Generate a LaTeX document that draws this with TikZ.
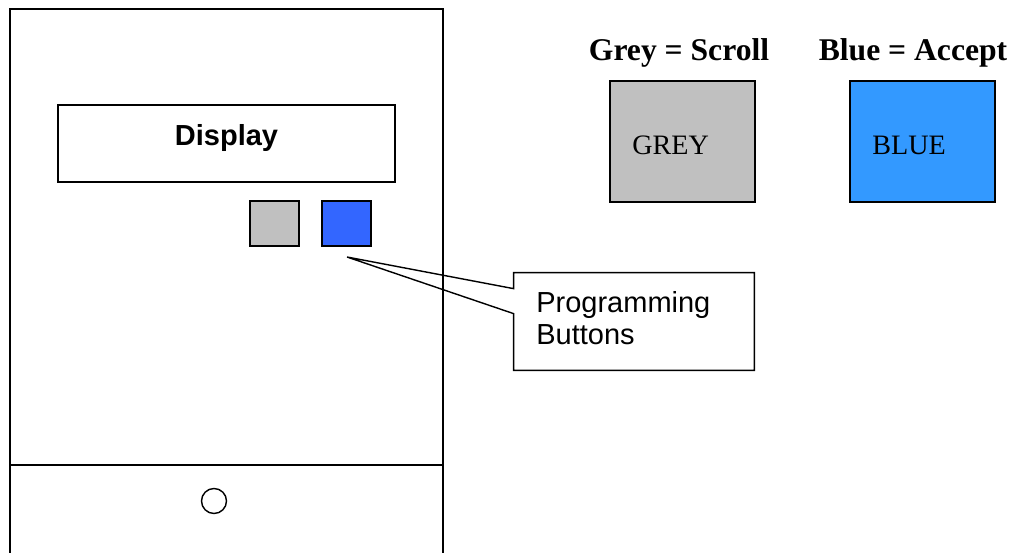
\documentclass[tikz,border=0pt]{standalone}
\usepackage{fontspec}
\setmainfont{Liberation Serif}
\setsansfont{Liberation Sans}
\usetikzlibrary{positioning}

\definecolor{btngrey}{HTML}{C0C0C0}
\definecolor{btnblue}{HTML}{3366FF}
\definecolor{keyblue}{HTML}{3399FF}

\tikzset{
  outline/.style={draw=black, line width=0.8pt},
  box/.style={outline, rectangle, inner sep=0pt},
  button/.style={box, minimum width=0.98cm, minimum height=0.9cm},
  keybox/.style={box, minimum width=2.9cm, minimum height=2.42cm},
  sanstext/.style={font=\sffamily\fontsize{16.5}{18.5}\selectfont},
  keytitle/.style={font=\bfseries\fontsize{18}{21}\selectfont, anchor=base},
  keytext/.style={font=\fontsize{16}{19}\selectfont, anchor=west, inner sep=0pt}
}

\begin{document}
\begin{tikzpicture}[x=0.02cm, y=-0.02cm]
\useasboundingbox (0,0) rectangle (1013,553);

% housing
\draw[outline] (10,553) -- (10,9) -- (443,9) -- (443,553);
\draw[outline] (10,465) -- (443,465);
\node[outline, circle, minimum size=0.5cm, inner sep=0pt] (knob) at (214,501) {};

% display
\node[box, minimum width=6.74cm, minimum height=1.54cm] (display) at (226.5,143.5) {};
\node[sanstext, font=\sffamily\bfseries\fontsize{16.5}{18.5}\selectfont] (disptext) at (226.5,138) {Display};

% buttons
\node[button, fill=btngrey] (greybtn) at (274.5,223.5) {};
\node[button, fill=btnblue] (bluebtn) at (346.5,223.5) {};

% callout
\coordinate (tip) at (347,257);
\node[minimum width=4.8cm, minimum height=1.94cm, inner sep=0pt] (callout) at (634,321.5) {};
\node[sanstext, align=left, anchor=north west, inner sep=0pt] (calltext) at (536,291) {Programming\\Buttons};
\draw[outline, line join=miter] ([yshift=-0.32cm]callout.north west) -- (tip)
  -- ([yshift=-0.82cm]callout.north west) -- (callout.south west)
  -- (callout.south east) -- (callout.north east) -- (callout.north west) -- cycle;

% key
\node[keytitle] (greytitle) at (679,61) {Grey = Scroll};
\node[keytitle] (bluetitle) at (913,61) {Blue = Accept};
\node[keybox, fill=btngrey] (greykey) at (682.5,141.5) {};
\node[keybox, fill=keyblue] (bluekey) at (922.5,141.5) {};
\node[keytext] (greylabel) at (632,145) {GREY};
\node[keytext] (bluelabel) at (872,145) {BLUE};

\end{tikzpicture}
\end{document}
